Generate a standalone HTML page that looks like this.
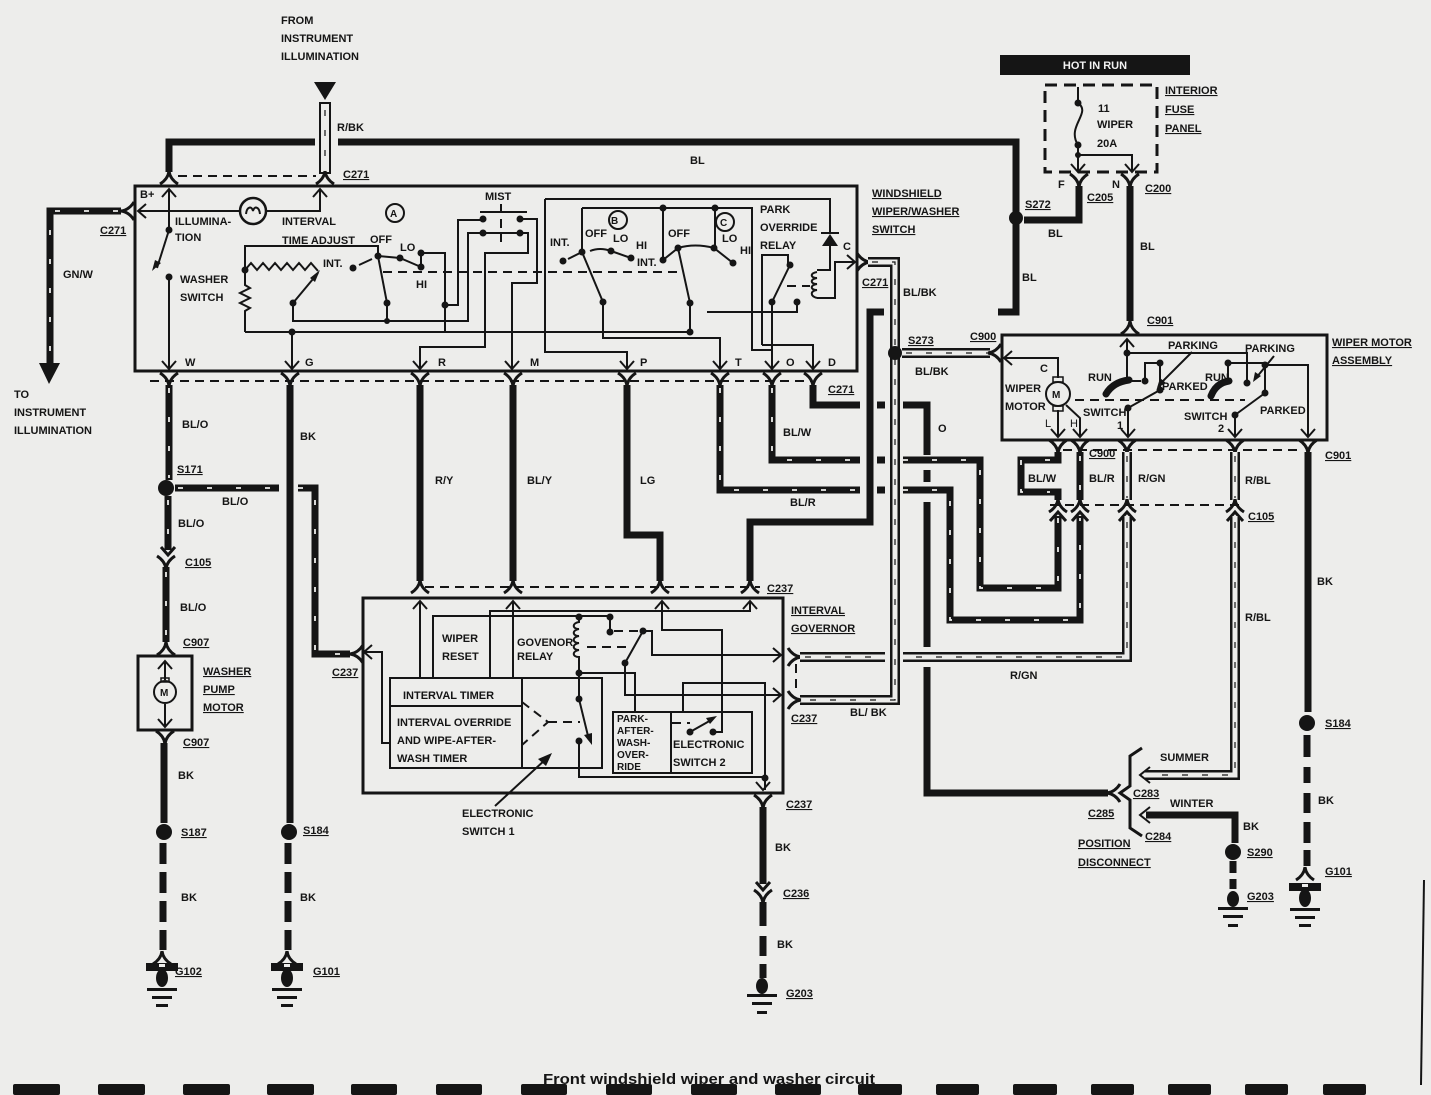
<!DOCTYPE html>
<html><head><meta charset="utf-8">
<style>
html,body{margin:0;padding:0;background:#ededeb;}
svg{display:block}
text{font-family:"Liberation Sans",Arial,sans-serif;font-weight:bold;font-size:11px;fill:#151515}
.u{text-decoration:underline}
.k{stroke:#151515;stroke-width:7;fill:none}
.st{stroke:#ededeb;stroke-width:1.8;fill:none;stroke-dasharray:5 24}
.h1{stroke:#151515;stroke-width:10;fill:none}
.h2{stroke:#ededeb;stroke-width:5;fill:none}
.h3{stroke:#151515;stroke-width:1.2;fill:none;stroke-dasharray:6 14}
.t{stroke:#151515;stroke-width:2;fill:none}
.bx{stroke:#151515;stroke-width:3;fill:none}
.dd{stroke:#151515;stroke-width:2;fill:none;stroke-dasharray:9 6}
.f{stroke:#151515;stroke-width:3;fill:none}
.a{stroke:#151515;stroke-width:2;fill:none}
.dot{fill:#151515}
.sm{font-size:10px}
</style></head><body>
<svg width="1431" height="1095" viewBox="0 0 1431 1095" xmlns="http://www.w3.org/2000/svg">
<defs>
<path id="fk" d="M-9,7 Q-1,2 0,-6 M9,7 Q1,2 0,-6"/>
<path id="ar" d="M-7,-8 L0,0 L7,-8"/>
<g id="g1"><rect x="-16" y="0" width="32" height="8"/><rect x="-3" y="1" width="6" height="3" fill="#ededeb"/><ellipse cx="0" cy="15" rx="6" ry="9"/><rect x="-15" y="25" width="30" height="3"/><rect x="-10" y="33" width="20" height="3"/><rect x="-6" y="41" width="12" height="3"/></g>
<g id="g2"><ellipse cx="0" cy="0" rx="6" ry="8"/><rect x="-15" y="8" width="30" height="3"/><rect x="-10" y="16" width="20" height="3"/><rect x="-5" y="25" width="10" height="3"/></g>
</defs>

<!-- ===== TOP ===== -->
<text x="281" y="24">FROM</text>
<text x="281" y="42">INSTRUMENT</text>
<text x="281" y="60">ILLUMINATION</text>
<polygon class="dot" points="314,82 336,82 325,100"/>
<rect x="320" y="103" width="10" height="70" fill="#ededeb" stroke="#151515" stroke-width="2"/>
<path class="h3" d="M325,110V168"/>
<text x="337" y="131">R/BK</text>
<path class="k" d="M169,172V142H315M338,142H1016V312H998"/>
<text x="690" y="164">BL</text>
<path class="dd" d="M178,176H316"/>
<use href="#fk" class="f" transform="translate(169,177)"/>
<use href="#fk" class="f" transform="translate(325,177)"/>
<text class="u" x="343" y="178">C271</text>

<!-- ===== MAIN SWITCH BOX ===== -->
<rect class="bx" x="135" y="186" width="722" height="185"/>
<text x="140" y="198">B+</text>
<use href="#ar" class="a" transform="translate(169,189) rotate(180)"/>
<use href="#ar" class="a" transform="translate(320,189) rotate(180)"/>
<path class="t" d="M169,189V230M320,189V211H138"/>
<use href="#ar" class="a" transform="translate(138,211) rotate(90)"/>
<circle cx="253" cy="211" r="13" fill="#ededeb" stroke="#151515" stroke-width="2.5"/>
<path class="t" stroke-width="1.6" d="M246,214C247,206 252,206 253,211C254,206 259,206 260,214"/>
<circle class="dot" cx="169" cy="230" r="3.5"/>
<path class="t" d="M169,230L157,268"/>
<polygon class="dot" points="152,271 155,260 161,263"/>
<circle class="dot" cx="169" cy="277" r="3.5"/>
<path class="t" d="M169,277V369"/>
<text x="175" y="225">ILLUMINA-</text>
<text x="175" y="241">TION</text>
<text x="180" y="283">WASHER</text>
<text x="180" y="301">SWITCH</text>
<text x="282" y="225">INTERVAL</text>
<text x="282" y="244">TIME ADJUST</text>
<circle cx="395" cy="213" r="9" fill="none" stroke="#151515" stroke-width="2"/>
<text x="390" y="217" class="sm">A</text>
<text x="370" y="243">OFF</text>
<text x="400" y="251">LO</text>
<text x="416" y="288">HI</text>
<text x="323" y="267">INT.</text>
<!-- resistor & switch A -->
<path class="t" d="M245,332V311l5,-3l-10,-5l10,-5l-10,-5l10,-5l-5,-3V246H378V256"/>
<path class="t" d="M245,270l6,-7l6,7l6,-7l6,7l6,-7l6,7l6,-7l6,7l6,-7l6,7l6,-7l7,8"/>
<path class="t" d="M293,303L318,273"/>
<polygon class="dot" points="320,270 310,278 315,282"/>
<path class="t" d="M293,303V321H468V233H485M378,256L387,303V321M359,265L372,259M378,256L400,258L421,267M421,253V267M421,253H445V332M445,305H458V220H483"/>
<circle class="dot" cx="245" cy="270" r="3.5"/><circle class="dot" cx="293" cy="303" r="3.5"/>
<circle class="dot" cx="378" cy="256" r="3.5"/><circle class="dot" cx="387" cy="303" r="3.5"/>
<circle class="dot" cx="353" cy="268" r="3.5"/><circle class="dot" cx="400" cy="258" r="3.5"/>
<circle class="dot" cx="421" cy="253" r="3.5"/><circle class="dot" cx="421" cy="267" r="3.5"/>
<circle class="dot" cx="445" cy="305" r="3.5"/><circle class="dot" cx="387" cy="321" r="3"/>
<!-- MIST -->
<text x="485" y="200">MIST</text>
<path class="t" d="M480,212H527M483,233H520"/>
<path class="dd" stroke-dasharray="5 4" d="M501,204V242"/>
<circle class="dot" cx="483" cy="219" r="3.5"/><circle class="dot" cx="520" cy="219" r="3.5"/>
<circle class="dot" cx="483" cy="233" r="3.5"/><circle class="dot" cx="520" cy="233" r="3.5"/>
<path class="t" d="M520,219H537V283H512V369M520,233H528V253H485V347H420V369"/>
<path class="t" d="M245,332H690M292,332V369"/>
<circle class="dot" cx="292" cy="332" r="3.5"/>
<path class="dd" d="M383,272H683"/>
<!-- B/C inner -->
<path class="t" d="M545,199H830V233M545,199V352H627V369M582,208H752V350H772V369M582,208V252"/>
<text x="611" y="224" class="sm">B</text>
<circle cx="618" cy="220" r="9" fill="none" stroke="#151515" stroke-width="2"/>
<circle cx="725" cy="222" r="9" fill="none" stroke="#151515" stroke-width="2"/>
<text x="720" y="226" class="sm">C</text>
<text x="550" y="246">INT.</text>
<text x="585" y="237">OFF</text>
<text x="613" y="242">LO</text>
<text x="636" y="249">HI</text>
<text x="637" y="266">INT.</text>
<text x="668" y="237">OFF</text>
<text x="722" y="242">LO</text>
<text x="740" y="254">HI</text>
<path class="t" d="M582,252L603,302M568,259L582,252M590,251Q600,247 611,251L631,258M663,208V260L678,248M715,208V248M678,248L690,303V332M678,248Q695,243 714,248L733,263M603,302V338H720V369M707,312H797V302"/>
<circle class="dot" cx="582" cy="252" r="3.5"/><circle class="dot" cx="563" cy="261" r="3.5"/>
<circle class="dot" cx="611" cy="251" r="3.5"/><circle class="dot" cx="631" cy="258" r="3.5"/>
<circle class="dot" cx="603" cy="302" r="3.5"/><circle class="dot" cx="663" cy="208" r="3.5"/>
<circle class="dot" cx="715" cy="208" r="3.5"/><circle class="dot" cx="663" cy="260" r="3.5"/>
<circle class="dot" cx="678" cy="248" r="3.5"/><circle class="dot" cx="714" cy="248" r="3.5"/>
<circle class="dot" cx="733" cy="263" r="3.5"/><circle class="dot" cx="690" cy="303" r="3.5"/>
<circle class="dot" cx="690" cy="332" r="3.5"/>
<!-- relay -->
<text x="760" y="213">PARK</text>
<text x="760" y="231">OVERRIDE</text>
<text x="760" y="249">RELAY</text>
<path class="t" d="M762,345V255H788V265M790,265L772,302V350M813,369V345H762"/>
<circle class="dot" cx="790" cy="265" r="3.5"/><circle class="dot" cx="772" cy="302" r="3.5"/><circle class="dot" cx="797" cy="302" r="3.5"/>
<path class="t" d="M830,246V270H817M817,298H835V262H855"/>
<path class="t" d="M817,272c-7,1 -7,6 0,6c-7,1 -7,6 0,6c-7,1 -7,6 0,6c-7,1 -7,6 0,8"/>
<path class="dd" stroke-dasharray="6 4" d="M787,286H810"/>
<polygon class="dot" points="822,246 838,246 830,234"/>
<path class="t" stroke-width="2.5" d="M821,233H839"/>
<text x="843" y="250">C</text>
<use href="#ar" class="a" transform="translate(855,262) rotate(-90)"/>
<!-- terminal arrows -->
<use href="#ar" class="a" transform="translate(169,369)"/>
<use href="#ar" class="a" transform="translate(292,369)"/>
<use href="#ar" class="a" transform="translate(420,369)"/>
<use href="#ar" class="a" transform="translate(512,369)"/>
<use href="#ar" class="a" transform="translate(627,369)"/>
<use href="#ar" class="a" transform="translate(720,369)"/>
<use href="#ar" class="a" transform="translate(772,369)"/>
<use href="#ar" class="a" transform="translate(813,369)"/>
<text x="185" y="366">W</text><text x="305" y="366">G</text><text x="438" y="366">R</text>
<text x="530" y="366">M</text><text x="640" y="366">P</text><text x="735" y="366">T</text>
<text x="786" y="366">O</text><text x="828" y="366">D</text>

<text class="u" x="872" y="197">WINDSHIELD</text>
<text class="u" x="872" y="215">WIPER/WASHER</text>
<text class="u" x="872" y="233">SWITCH</text>

<!-- left GN/W -->
<use href="#fk" class="f" transform="translate(127,211) rotate(-90)"/>
<path class="k" stroke-width="8" d="M121,211H50V365"/>
<path class="st" d="M118,211H50V362"/>
<polygon class="dot" points="39,363 60,363 49,384"/>
<text x="63" y="278">GN/W</text>
<text class="u" x="100" y="234">C271</text>
<text x="14" y="398">TO</text>
<text x="14" y="416">INSTRUMENT</text>
<text x="14" y="434">ILLUMINATION</text>

<!-- C271 bottom connectors -->
<path class="dd" d="M150,381H812"/>
<use href="#fk" class="f" transform="translate(169,380) rotate(180)"/>
<use href="#fk" class="f" transform="translate(290,380) rotate(180)"/>
<use href="#fk" class="f" transform="translate(420,380) rotate(180)"/>
<use href="#fk" class="f" transform="translate(513,380) rotate(180)"/>
<use href="#fk" class="f" transform="translate(627,380) rotate(180)"/>
<use href="#fk" class="f" transform="translate(720,380) rotate(180)"/>
<use href="#fk" class="f" transform="translate(772,380) rotate(180)"/>
<use href="#fk" class="f" transform="translate(813,380) rotate(180)"/>
<text class="u" x="828" y="393">C271</text>

<!-- right C271 / BL/BK -->
<use href="#fk" class="f" transform="translate(864,262) rotate(90)"/>
<text class="u" x="862" y="286">C271</text>
<text x="903" y="296">BL/BK</text>
<path class="h1" d="M868,262H895V700H800"/><path class="h2" d="M868,262H895V700H800"/><path class="h3" d="M872,262H895V700H804"/>
<circle class="dot" cx="895" cy="353" r="7"/>
<path class="h1" d="M902,353H990"/><path class="h2" d="M902,353H990"/><path class="h3" d="M906,353H988"/>
<use href="#fk" class="f" transform="translate(994,353) rotate(-90)"/>
<text class="u" x="908" y="344">S273</text>
<text x="915" y="375">BL/BK</text>
<text class="u" x="970" y="340">C900</text>

<!-- wires below switch -->
<path class="k" d="M169,385V480"/><path class="st" d="M169,388V478"/>
<circle class="dot" cx="166" cy="488" r="8"/>
<text x="182" y="428">BL/O</text>
<text class="u" x="177" y="473">S171</text>
<path class="k" d="M175,488H279M298,488H315V654H350"/><path class="st" d="M178,488H279M298,488H315V654H350"/>
<text x="222" y="505">BL/O</text>
<use href="#fk" class="f" transform="translate(356,654) rotate(-90)"/>
<text class="u" x="332" y="676">C237</text>
<path class="k" d="M168,496V550"/><path class="st" d="M168,500V546"/>
<use href="#ar" class="f" transform="translate(168,555)"/>
<use href="#fk" class="f" transform="translate(166,563) rotate(180)"/>
<text x="178" y="527">BL/O</text>
<text class="u" x="185" y="566">C105</text>
<path class="k" d="M166,567V642"/><path class="st" d="M166,572V640"/>
<text x="180" y="611">BL/O</text>
<text class="u" x="183" y="646">C907</text>
<use href="#fk" class="f" transform="translate(166,648)"/>
<!-- washer motor -->
<rect class="bx" x="138" y="656" width="54" height="74"/>
<use href="#ar" class="a" transform="translate(165,661) rotate(180)"/>
<path class="t" d="M165,661V680M165,704V726"/>
<rect x="161" y="678" width="8" height="4" fill="none" stroke="#151515" stroke-width="1.5"/>
<circle cx="165" cy="692" r="11" fill="none" stroke="#151515" stroke-width="2"/>
<text x="160" y="696" class="sm">M</text>
<use href="#ar" class="a" transform="translate(165,727)"/>
<text class="u" x="203" y="675">WASHER</text>
<text class="u" x="203" y="693">PUMP</text>
<text class="u" x="203" y="711">MOTOR</text>
<use href="#fk" class="f" transform="translate(165,738) rotate(180)"/>
<text class="u" x="183" y="746">C907</text>
<path class="k" d="M164,743V823"/>
<text x="178" y="779">BK</text>
<circle class="dot" cx="164" cy="832" r="8"/>
<text class="u" x="181" y="836">S187</text>
<path class="k" d="M163,843V864M163,872V893M163,901V922M163,930V950"/>
<text x="181" y="901">BK</text>
<use href="#fk" class="f" transform="translate(162,957)"/>
<use href="#g1" fill="#151515" transform="translate(162,963)"/>
<text class="u" x="175" y="975">G102</text>

<path class="k" d="M290,385V823"/>
<text x="300" y="440">BK</text>
<circle class="dot" cx="289" cy="832" r="8"/>
<text class="u" x="303" y="834">S184</text>
<path class="k" d="M288,843V864M288,872V893M288,901V922M288,930V950"/>
<text x="300" y="901">BK</text>
<use href="#fk" class="f" transform="translate(287,957)"/>
<use href="#g1" fill="#151515" transform="translate(287,963)"/>
<text class="u" x="313" y="975">G101</text>

<path class="k" d="M420,385V581M513,385V581M627,385V535H660V581"/>
<text x="435" y="484">R/Y</text>
<text x="527" y="484">BL/Y</text>
<text x="640" y="484">LG</text>
<!-- T BL/R -->
<path class="k" d="M720,385V490H860M877,490H885M903,490H950V620H1080V516"/>
<path class="st" d="M720,388V490H860M903,490H950V620H1080V518"/>
<text x="790" y="506">BL/R</text>
<!-- O BL/W -->
<path class="k" d="M772,385V460H860M877,460H885M903,460H980V588H1058V516"/>
<path class="st" d="M772,388V460H860M903,460H980V588H1058V518"/>
<text x="783" y="436">BL/W</text>
<!-- D O -->
<path class="k" d="M813,385V405H860M877,405H885M903,405H927V455M927,470V482M927,502V647M927,667V793H1108"/>
<text x="938" y="432">O</text>
<!-- governor wire -->
<path class="k" d="M750,581V522H870V312H884"/>

<!-- ===== INTERVAL GOVERNOR ===== -->
<path class="dd" d="M425,587H760"/>
<use href="#fk" class="f" transform="translate(420,586)"/>
<use href="#fk" class="f" transform="translate(513,586)"/>
<use href="#fk" class="f" transform="translate(660,586)"/>
<use href="#fk" class="f" transform="translate(750,586)"/>
<text class="u" x="767" y="592">C237</text>
<text class="u" x="791" y="614">INTERVAL</text>
<text class="u" x="791" y="632">GOVERNOR</text>
<rect class="bx" x="363" y="598" width="420" height="195"/>
<use href="#ar" class="a" transform="translate(420,601) rotate(180)"/>
<use href="#ar" class="a" transform="translate(513,601) rotate(180)"/>
<use href="#ar" class="a" transform="translate(662,601) rotate(180)"/>
<use href="#ar" class="a" transform="translate(750,601) rotate(180)"/>
<path class="t" d="M420,601V678M513,601V678M490,678V611H750V601M433,678V616H610V632M662,601V630H722V732H713M643,631H652V655H780M579,673H635V712M625,663V695H780M579,673V699M579,741V777H765M683,712V683H765V790M365,652H382V743H390"/>
<path class="t" d="M579,617V622c-7,1 -7,7 0,7c-7,1 -7,7 0,7c-7,1 -7,7 0,7c-7,1 -7,7 0,7c-7,1 -7,7 0,7V673"/>
<path class="t" d="M643,631L625,663M579,699L589,740"/>
<polygon class="dot" points="592,745 584,735 592,733"/>
<path class="dd" stroke-dasharray="6 4" d="M614,631H640M587,647H632M672,723H690"/>
<path class="t" d="M690,732L713,719"/>
<polygon class="dot" points="717,716 706,718 710,724"/>
<circle class="dot" cx="579" cy="617" r="3.5"/><circle class="dot" cx="610" cy="617" r="3.5"/>
<circle class="dot" cx="610" cy="632" r="3.5"/><circle class="dot" cx="643" cy="631" r="3.5"/>
<circle class="dot" cx="625" cy="663" r="3.5"/><circle class="dot" cx="579" cy="673" r="3.5"/>
<circle class="dot" cx="579" cy="699" r="3.5"/><circle class="dot" cx="579" cy="741" r="3.5"/>
<circle class="dot" cx="690" cy="732" r="3.5"/><circle class="dot" cx="713" cy="732" r="3.5"/>
<circle class="dot" cx="765" cy="778" r="3.5"/>
<use href="#ar" class="a" transform="translate(364,652) rotate(90)"/>
<use href="#ar" class="a" transform="translate(781,655) rotate(-90)"/>
<use href="#ar" class="a" transform="translate(781,695) rotate(-90)"/>
<use href="#ar" class="a" transform="translate(763,790)"/>
<text x="442" y="642">WIPER</text>
<text x="442" y="660">RESET</text>
<text x="517" y="646">GOVENOR</text>
<text x="517" y="660">RELAY</text>
<rect class="t" x="390" y="678" width="212" height="90"/>
<path class="t" d="M390,706H522M522,678V768"/>
<path class="dd" stroke-dasharray="5 4" d="M522,702L548,722L522,745M548,722H580"/>
<text x="403" y="699">INTERVAL TIMER</text>
<text x="397" y="726">INTERVAL OVERRIDE</text>
<text x="397" y="744">AND WIPE-AFTER-</text>
<text x="397" y="762">WASH TIMER</text>
<rect class="t" x="613" y="712" width="139" height="61"/>
<path class="t" d="M671,712V773"/>
<text x="617" y="722" class="sm">PARK-</text>
<text x="617" y="734" class="sm">AFTER-</text>
<text x="617" y="746" class="sm">WASH-</text>
<text x="617" y="758" class="sm">OVER-</text>
<text x="617" y="770" class="sm">RIDE</text>
<text x="673" y="748">ELECTRONIC</text>
<text x="673" y="766">SWITCH 2</text>
<path class="t" d="M495,806L546,759"/>
<polygon class="dot" points="552,753 538,759 546,766"/>
<text x="462" y="817">ELECTRONIC</text>
<text x="462" y="835">SWITCH 1</text>
<!-- governor right connectors -->
<use href="#fk" class="f" transform="translate(795,657) rotate(90)"/>
<use href="#fk" class="f" transform="translate(795,700) rotate(90)"/>
<path class="h1" d="M800,657H885"/><path class="h2" d="M800,657H885"/><path class="h3" d="M805,657H882"/>
<path class="dd" stroke-dasharray="5 4" d="M796,664V693"/>
<text class="u" x="791" y="722">C237</text>
<text x="850" y="716">BL/ BK</text>
<!-- governor bottom -->
<use href="#fk" class="f" transform="translate(763,802) rotate(180)"/>
<text class="u" x="786" y="808">C237</text>
<path class="k" d="M763,807V884"/>
<text x="775" y="851">BK</text>
<use href="#ar" class="f" transform="translate(763,890)"/>
<use href="#fk" class="f" transform="translate(763,897) rotate(180)"/>
<text class="u" x="783" y="897">C236</text>
<path class="k" d="M763,902V926M763,936V956M763,964V978"/>
<text x="777" y="948">BK</text>
<use href="#g2" fill="#151515" transform="translate(762,986)"/>
<text class="u" x="786" y="997">G203</text>

<!-- ===== FUSE PANEL ===== -->
<rect x="1000" y="55" width="190" height="20" fill="#151515"/>
<text x="1095" y="69" text-anchor="middle" style="fill:#f2f2f2">HOT IN RUN</text>
<rect x="1045" y="85" width="112" height="87" fill="none" stroke="#151515" stroke-width="3" stroke-dasharray="12 7"/>
<path class="t" d="M1078,87V103M1078,145V172M1078,155H1132V172"/>
<path class="t" stroke-width="1.5" d="M1078,103C1092,113 1066,126 1078,145"/>
<circle class="dot" cx="1078" cy="103" r="3.5"/><circle class="dot" cx="1078" cy="145" r="3.5"/><circle class="dot" cx="1078" cy="155" r="3"/>
<use href="#ar" class="a" transform="translate(1078,172)"/>
<use href="#ar" class="a" transform="translate(1132,172)"/>
<text x="1098" y="112">11</text>
<text x="1097" y="128">WIPER</text>
<text x="1097" y="147">20A</text>
<text class="u" x="1165" y="94">INTERIOR</text>
<text class="u" x="1165" y="113">FUSE</text>
<text class="u" x="1165" y="132">PANEL</text>
<text x="1058" y="188">F</text>
<text x="1112" y="188">N</text>
<text class="u" x="1087" y="201">C205</text>
<text class="u" x="1145" y="192">C200</text>
<use href="#fk" class="f" transform="translate(1079,181) rotate(180)"/>
<use href="#fk" class="f" transform="translate(1130,181) rotate(180)"/>
<path class="k" d="M1079,186V220H1024"/>
<circle class="dot" cx="1016" cy="218" r="7"/>
<text class="u" x="1025" y="208">S272</text>
<text x="1048" y="237">BL</text>
<text x="1022" y="281">BL</text>
<path class="k" d="M1130,186V321"/>
<text x="1140" y="250">BL</text>
<use href="#fk" class="f" transform="translate(1130,327)"/>
<text class="u" x="1147" y="324">C901</text>

<!-- ===== WIPER MOTOR ASSEMBLY ===== -->
<rect class="bx" x="1002" y="335" width="325" height="105"/>
<text class="u" x="1332" y="346">WIPER MOTOR</text>
<text class="u" x="1332" y="364">ASSEMBLY</text>
<use href="#ar" class="a" transform="translate(1004,358) rotate(90)"/>
<path class="t" d="M1004,358H1058V378M1058,410V437M1066,405L1080,418V437"/>
<rect x="1053" y="377" width="10" height="5" fill="none" stroke="#151515" stroke-width="1.5"/>
<rect x="1053" y="406" width="10" height="5" fill="none" stroke="#151515" stroke-width="1.5"/>
<circle cx="1058" cy="394" r="12" fill="#ededeb" stroke="#151515" stroke-width="2"/>
<text x="1052" y="398" class="sm">M</text>
<text x="1040" y="372">C</text>
<text x="1005" y="392">WIPER</text>
<text x="1005" y="410">MOTOR</text>
<text x="1045" y="427" style="font-weight:normal">L</text>
<text x="1070" y="427" style="font-weight:normal">H</text>
<use href="#ar" class="a" transform="translate(1127,339) rotate(180)"/>
<path class="t" d="M1127,339V380M1127,353H1247V383M1145,381V363H1160V390M1128,408L1160,390M1128,408V437M1228,363V380M1228,363H1265M1265,365H1308V437M1265,365V393M1235,415L1265,393M1235,415V437"/>
<path class="k" stroke-linecap="round" d="M1129,380Q1113,382 1106,394M1229,381Q1216,383 1211,396"/>
<path class="dd" d="M1075,400H1245"/>
<path class="dd" stroke-dasharray="4 4" d="M1132,381H1143"/>
<circle class="dot" cx="1127" cy="353" r="3.5"/><circle class="dot" cx="1247" cy="383" r="3.5"/>
<circle class="dot" cx="1145" cy="381" r="3.5"/><circle class="dot" cx="1160" cy="363" r="3.5"/>
<circle class="dot" cx="1160" cy="390" r="3.5"/><circle class="dot" cx="1128" cy="408" r="3.5"/>
<circle class="dot" cx="1228" cy="363" r="3.5"/><circle class="dot" cx="1265" cy="365" r="3.5"/>
<circle class="dot" cx="1265" cy="393" r="3.5"/><circle class="dot" cx="1235" cy="415" r="3.5"/>
<path class="t" d="M1192,352L1160,384M1274,356L1256,378"/>
<polygon class="dot" points="1157,388 1160,378 1166,383"/>
<polygon class="dot" points="1253,382 1255,372 1261,376"/>
<text x="1088" y="381">RUN</text>
<text x="1168" y="349">PARKING</text>
<text x="1162" y="390">PARKED</text>
<text x="1083" y="416">SWITCH</text>
<text x="1117" y="429">1</text>
<text x="1205" y="381">RUN</text>
<text x="1245" y="352">PARKING</text>
<text x="1184" y="420">SWITCH</text>
<text x="1218" y="432">2</text>
<text x="1260" y="414">PARKED</text>
<use href="#ar" class="a" transform="translate(1058,437)"/>
<use href="#ar" class="a" transform="translate(1080,437)"/>
<use href="#ar" class="a" transform="translate(1128,437)"/>
<use href="#ar" class="a" transform="translate(1235,437)"/>
<use href="#ar" class="a" transform="translate(1308,437)"/>

<!-- C900/C901 below -->
<path class="dd" d="M1063,450H1300"/>
<use href="#fk" class="f" transform="translate(1058,447) rotate(180)"/>
<use href="#fk" class="f" transform="translate(1080,447) rotate(180)"/>
<use href="#fk" class="f" transform="translate(1127,447) rotate(180)"/>
<use href="#fk" class="f" transform="translate(1235,447) rotate(180)"/>
<use href="#fk" class="f" transform="translate(1308,447) rotate(180)"/>
<text class="u" x="1089" y="457">C900</text>
<text class="u" x="1325" y="459">C901</text>
<path class="k" stroke-width="8" d="M1058,452V460H1021V492H1058V500"/><path class="st" d="M1050,460H1021V492H1050"/>
<path class="k" d="M1080,452V500"/><path class="st" d="M1080,456V498"/>
<path class="h1" d="M1127,452V500"/><path class="h2" d="M1127,452V500"/><path class="h3" d="M1127,456V498"/>
<path class="h1" d="M1235,452V500"/><path class="h2" d="M1235,452V500"/><path class="h3" d="M1235,456V498"/>
<text x="1028" y="482">BL/W</text>
<text x="1089" y="482">BL/R</text>
<text x="1138" y="482">R/GN</text>
<text x="1245" y="484">R/BL</text>
<path class="dd" d="M1050,505H1245"/>
<use href="#fk" class="f" transform="translate(1058,505)"/>
<use href="#fk" class="f" transform="translate(1080,505)"/>
<use href="#fk" class="f" transform="translate(1127,505)"/>
<use href="#fk" class="f" transform="translate(1235,505)"/>
<path class="f" stroke-width="4" d="M1050,521L1058,512L1066,521M1072,521L1080,512L1088,521M1119,521L1127,512L1135,521M1227,521L1235,512L1243,521"/>
<text class="u" x="1248" y="520">C105</text>
<!-- R/GN -->
<path class="h1" d="M1127,516V657H903"/><path class="h2" d="M1127,516V657H903"/><path class="h3" d="M1127,522V657H906"/>
<text x="1010" y="679">R/GN</text>
<!-- R/BL -->
<path class="h1" d="M1235,516V775H1145"/><path class="h2" d="M1235,516V775H1145"/><path class="h3" d="M1235,522V775H1150"/>
<path class="a" stroke-width="3" d="M1150,767L1140,775L1150,783"/>
<text x="1245" y="621">R/BL</text>
<text x="1160" y="761">SUMMER</text>
<!-- WINTER -->
<path class="k" d="M1146,815H1235V843"/>
<path class="a" stroke-width="3" d="M1150,807L1140,815L1150,823"/>
<text x="1170" y="807">WINTER</text>
<text x="1243" y="830">BK</text>
<circle class="dot" cx="1233" cy="852" r="8"/>
<text class="u" x="1247" y="856">S290</text>
<path class="k" d="M1233,861V873M1233,879V889"/>
<use href="#g2" fill="#151515" transform="translate(1233,899)"/>
<text class="u" x="1247" y="900">G203</text>
<!-- brace -->
<path class="f" d="M1142,748L1130,756V786L1120,793L1130,800V828L1142,836"/>
<use href="#fk" class="f" transform="translate(1113,793) rotate(-90)"/>
<text class="u" x="1133" y="797">C283</text>
<text class="u" x="1088" y="817">C285</text>
<text class="u" x="1145" y="840">C284</text>
<text class="u" x="1078" y="847">POSITION</text>
<text class="u" x="1078" y="866">DISCONNECT</text>
<!-- BK right -->
<path class="k" d="M1308,452V712"/>
<text x="1317" y="585">BK</text>
<circle class="dot" cx="1307" cy="723" r="8"/>
<text class="u" x="1325" y="727">S184</text>
<path class="k" stroke-width="8" d="M1307,735V757M1307,767V783M1307,793V813M1307,822V843M1307,850V866"/>
<text x="1318" y="804">BK</text>
<use href="#fk" class="f" transform="translate(1305,873)"/>
<use href="#g1" fill="#151515" transform="translate(1305,883)"/>
<text class="u" x="1325" y="875">G101</text>

<!-- right page edge -->
<path class="t" d="M1424,880L1421,1085"/>

<!-- caption & bottom blocks -->
<text x="543" y="1084" style="font-size:15px" textLength="332" lengthAdjust="spacingAndGlyphs">Front windshield wiper and washer circuit</text>
<g fill="#151515">
<rect x="13" y="1084" width="47" height="11" rx="2"/>
<rect x="98" y="1084" width="47" height="11" rx="2"/>
<rect x="183" y="1084" width="47" height="11" rx="2"/>
<rect x="267" y="1084" width="47" height="11" rx="2"/>
<rect x="351" y="1084" width="46" height="11" rx="2"/>
<rect x="436" y="1084" width="46" height="11" rx="2"/>
<rect x="521" y="1084" width="46" height="11" rx="2"/>
<rect x="606" y="1084" width="46" height="11" rx="2"/>
<rect x="691" y="1084" width="46" height="11" rx="2"/>
<rect x="775" y="1084" width="46" height="11" rx="2"/>
<rect x="858" y="1084" width="44" height="11" rx="2"/>
<rect x="936" y="1084" width="43" height="11" rx="2"/>
<rect x="1013" y="1084" width="44" height="11" rx="2"/>
<rect x="1091" y="1084" width="43" height="11" rx="2"/>
<rect x="1168" y="1084" width="43" height="11" rx="2"/>
<rect x="1245" y="1084" width="43" height="11" rx="2"/>
<rect x="1323" y="1084" width="43" height="11" rx="2"/>
</g>
</svg>
</body></html>
